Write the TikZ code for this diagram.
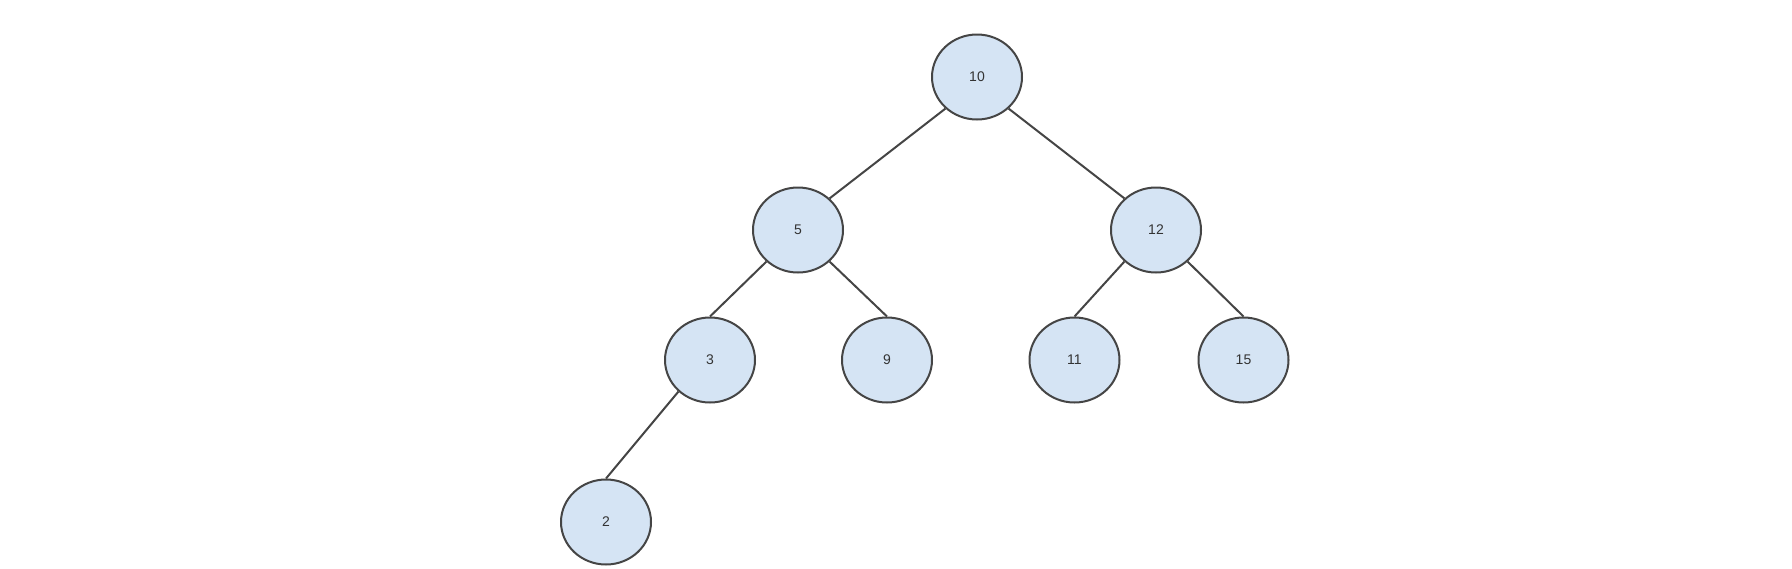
\documentclass[tikz,border=0pt]{standalone}
\usepackage{fontspec}
\setmainfont{Liberation Sans}
\usetikzlibrary{shapes.geometric}
\definecolor{nodefill}{HTML}{D5E4F4}
\definecolor{nodeline}{HTML}{454545}
\definecolor{textcol}{HTML}{333333}
\begin{document}
\begin{tikzpicture}[x=1pt,y=-1pt,
  treenode/.style={ellipse, draw=nodeline, fill=nodefill, line width=2pt,
    minimum width=90pt, minimum height=85pt, inner sep=0pt,
    text=textcol, font=\fontsize{14}{16}\selectfont},
  edge/.style={draw=nodeline, line width=2pt}]
\useasboundingbox (0,0) rectangle (1792,568);
\node[treenode] (n10) at (977,77) {10};
\node[treenode] (n5) at (798,230) {5};
\node[treenode] (n12) at (1156,230) {12};
\node[treenode] (n3) at (710,360) {3};
\node[treenode] (n9) at (887,360) {9};
\node[treenode] (n11) at (1074.5,360) {11};
\node[treenode] (n15) at (1243.5,360) {15};
\node[treenode] (n2) at (606,522) {2};
\draw[edge] (n10.225) -- (n5.45);
\draw[edge] (n10.-45) -- (n12.135);
\draw[edge] (n5.225) -- (n3.north);
\draw[edge] (n5.-45) -- (n9.north);
\draw[edge] (n12.225) -- (n11.north);
\draw[edge] (n12.-45) -- (n15.north);
\draw[edge] (n3.225) -- (n2.north);
\end{tikzpicture}
\end{document}
